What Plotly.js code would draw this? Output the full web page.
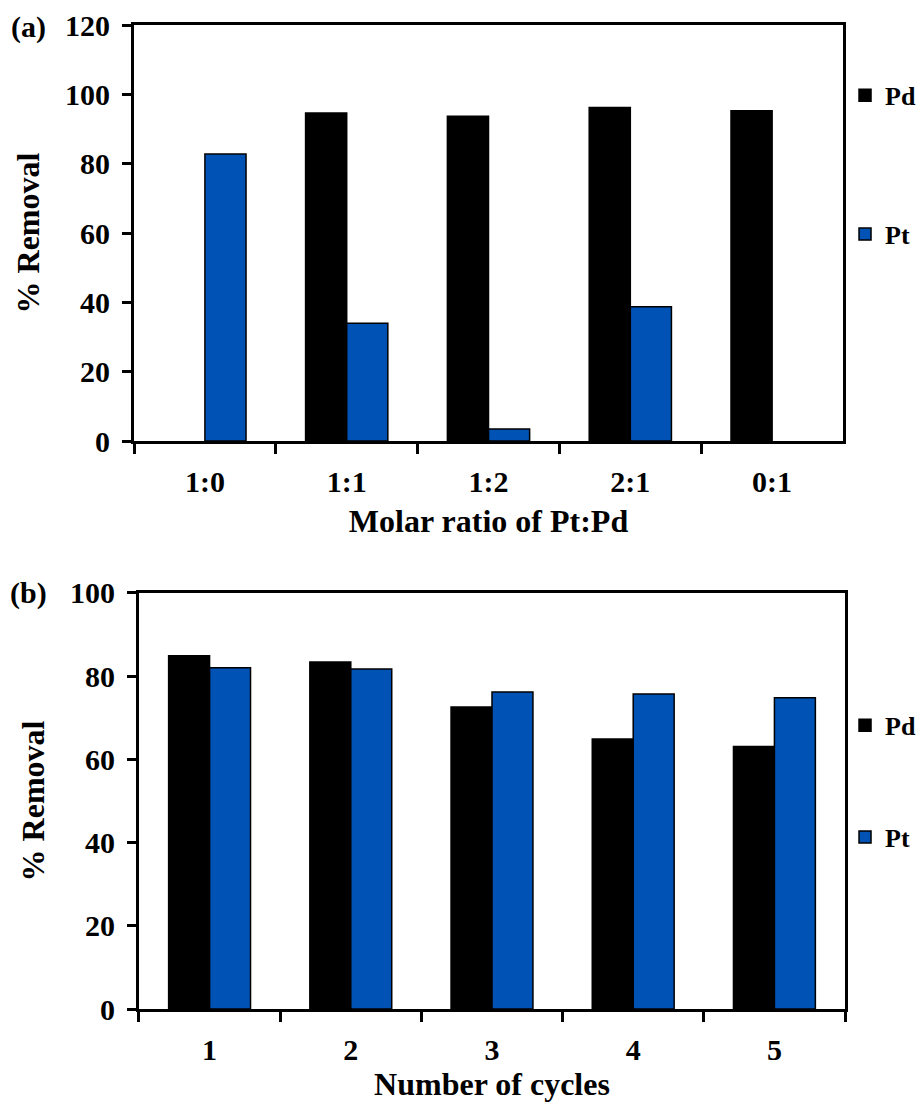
<!DOCTYPE html>
<html>
<head>
<meta charset="utf-8">
<script src="https://cdn.plot.ly/plotly-3.0.1.min.js"></script>
<style>html,body{margin:0;padding:0;background:#fff;}#chart{width:921px;height:1106px;}</style>
</head>
<body>
<div id="chart"></div>
<script>
// Panel (a): molar ratio
const ratioCategories = ["1:0", "1:1", "1:2", "2:1", "0:1"];
const ratioPd = [null, 94.6, 93.7, 96.2, 95.3];
const ratioPt = [82.8, 34.0, 3.5, 38.7, null];
// Panel (b): reuse cycles
const cycleCategories = ["1", "2", "3", "4", "5"];
const cyclePd = [84.9, 83.4, 72.6, 64.9, 63.1];
const cyclePt = [82.0, 81.7, 76.2, 75.7, 74.8];

const BLUE = "#0052B4";
function F(size) {
  return {family: "'Liberation Serif', 'Times New Roman', serif", size: size, color: "#000", weight: "bold"};
}
const lineStyle = {color: "#000", width: 1.5};

const traces = [
  {type: "bar", x: ratioCategories, y: ratioPd, name: "Pd", xaxis: "x", yaxis: "y",
   marker: {color: "#000", line: lineStyle}, legend: "legend", legendgroup: "a1"},
  {type: "bar", x: ratioCategories, y: ratioPt, name: "Pt", xaxis: "x", yaxis: "y",
   marker: {color: BLUE, line: lineStyle}, legend: "legend", legendgroup: "a2"},
  {type: "bar", x: cycleCategories, y: cyclePd, name: "Pd", xaxis: "x2", yaxis: "y2",
   marker: {color: "#000", line: lineStyle}, legend: "legend2", legendgroup: "b1"},
  {type: "bar", x: cycleCategories, y: cyclePt, name: "Pt", xaxis: "x2", yaxis: "y2",
   marker: {color: BLUE, line: lineStyle}, legend: "legend2", legendgroup: "b2"}
];

function axis(extra) {
  return Object.assign({
    showline: true, linecolor: "#000", linewidth: 3, mirror: true,
    ticks: "outside", tickcolor: "#000", tickwidth: 3, showgrid: false, zeroline: false,
    tickfont: F(30), automargin: false
  }, extra);
}

const layout = {
  width: 921, height: 1106,
  margin: {l: 134, r: 72, t: 25, b: 97},
  paper_bgcolor: "#fff", plot_bgcolor: "#fff",
  font: F(30),
  barmode: "group", bargap: 0.42, bargroupgap: 0,
  showlegend: true,
  xaxis: axis({
    domain: [0, 0.9972], anchor: "y", type: "category", tickson: "boundaries", ticklen: 10,
    ticklabelstandoff: 12,
    title: {text: "Molar ratio of Pt:Pd", font: F(32), standoff: 13}
  }),
  yaxis: axis({
    domain: [0.5772, 1], anchor: "x", range: [0, 120], dtick: 20, ticklen: 9,
    ticklabelstandoff: 6,
    title: {text: "% Removal", font: F(32), standoff: 16}
  }),
  xaxis2: axis({
    domain: [0.007, 1], anchor: "y2", type: "category", tickson: "boundaries", ticklen: 10,
    ticklabelstandoff: 12,
    title: {text: "Number of cycles", font: F(32), standoff: 8}
  }),
  yaxis2: axis({
    domain: [0, 0.4228], anchor: "x2", range: [0, 100], dtick: 20, ticklen: 9,
    ticklabelstandoff: 6,
    title: {text: "% Removal", font: F(32), standoff: 16}
  }),
  legend: {xref: "container", yref: "container", x: 0.9175, xanchor: "left", y: 0.935, yanchor: "top",
    traceorder: "grouped", tracegroupgap: 102, font: F(26), bgcolor: "rgba(0,0,0,0)"},
  legend2: {xref: "container", yref: "container", x: 0.9175, xanchor: "left", y: 0.3654, yanchor: "top",
    traceorder: "grouped", tracegroupgap: 75, font: F(26), bgcolor: "rgba(0,0,0,0)"},
  annotations: [
    {text: "(a)", xref: "paper", yref: "paper", x: -0.148, y: 0.998, xanchor: "center", yanchor: "middle",
     showarrow: false, font: F(30)},
    {text: "(b)", xref: "paper", yref: "paper", x: -0.148, y: 0.4228, xanchor: "center", yanchor: "middle",
     showarrow: false, font: F(30)}
  ]
};

Plotly.newPlot("chart", traces, layout, {displayModeBar: false, staticPlot: true});
</script>
</body>
</html>
